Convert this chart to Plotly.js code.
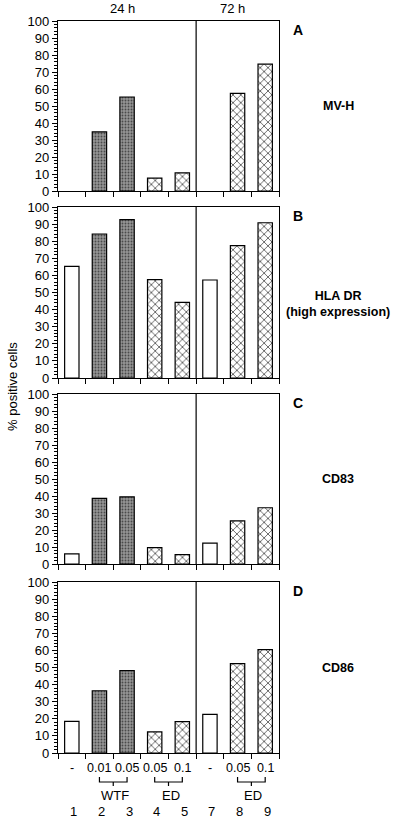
<!DOCTYPE html>
<html>
<head>
<meta charset="utf-8">
<script src="https://cdn.plot.ly/plotly-3.0.1.min.js"></script>
<style>html,body{margin:0;padding:0;background:#fff;}#chart{width:400px;height:824px;}</style>
</head>
<body>
<div id="chart"></div>
<script>
// ---- data ----
const lanes = ['1','2','3','4','5','7','8','9'];
const doseLabels = ['-','0.01','0.05','0.05','0.1','-','0.05','0.1'];
const treatment = ['none','WTF','WTF','ED','ED','none','ED','ED'];
const timeGroups = ['24 h','72 h'];
const panelLetters = ['A','B','C','D'];
const markerNames = ['MV-H','HLA DR<br>(high expression)','CD83','CD86'];
const mvH   = [null, 34.8, 55.3, 7.6, 10.7, null, 57.4, 74.6];
const hlaDR = [65.3, 84.2, 92.6, 57.5, 44.2, 57.3, 77.4, 90.8];
const cd83  = [5.9, 38.6, 39.5, 9.6, 5.5, 12.3, 25.4, 33.1];
const cd86  = [18.5, 36.4, 48.2, 12.3, 18.3, 22.6, 52.3, 60.5];
const panels = [mvH, hlaDR, cd83, cd86];

// ---- layout helpers ----
const W = 400, H = 824, ML = 58, MR = 121, MT = 21, MB = 71;
const plotH = H - MT - MB, plotW = W - ML - MR;
const py = p => (H - MB - p) / plotH;   // pixel y -> paper y
const px = p => (p - ML) / plotW;       // pixel x -> paper x
const panelPix = [[21,191],[207,378],[394,564],[582,753]];
const xpos = lanes.map((_, i) => i);

const font = {family: 'Liberation Sans, Arial, sans-serif', color: '#000'};
const styles = {
  none: {color: '#ffffff'},
  WTF:  {color: '#7e7e7e', pattern: {shape: '.', fgcolor: '#4a4a4a', bgcolor: '#949494', size: 3, solidity: 0.3, fillmode: 'replace'}},
  ED:   {color: '#ffffff', pattern: {shape: 'x', fgcolor: '#000000', bgcolor: '#ffffff', size: 5.5, solidity: 0.2, fillmode: 'replace'}}
};

const traces = [];
const layout = {
  width: W, height: H,
  margin: {l: ML, r: MR, t: MT, b: MB, pad: 0},
  paper_bgcolor: '#fff', plot_bgcolor: '#fff',
  showlegend: false, barmode: 'overlay',
  font: Object.assign({size: 13}, font),
  shapes: [], annotations: []
};

panels.forEach((vals, k) => {
  const sfx = k === 0 ? '' : String(k + 1);
  Object.keys(styles).forEach(t => {
    const st = styles[t];
    const marker = {color: st.color, line: {color: '#000', width: 1.2}};
    if (st.pattern) marker.pattern = st.pattern;
    traces.push({
      type: 'bar', x: xpos, y: vals.map((v, i) => treatment[i] === t ? v : null),
      xaxis: 'x' + sfx, yaxis: 'y' + sfx, width: 0.52,
      marker: marker, hoverinfo: 'skip'
    });
  });
  const [top, bot] = panelPix[k];
  layout['xaxis' + sfx] = {
    domain: [0, 1], anchor: 'y' + sfx, range: [-0.5, lanes.length - 0.5],
    tickvals: lanes.map((_, i) => i - 0.5).concat([lanes.length - 0.5]),
    ticks: 'outside', ticklen: 5, tickwidth: 1, tickcolor: '#000',
    showticklabels: false, showline: true, linecolor: '#000', linewidth: 1.2,
    mirror: true, showgrid: false, zeroline: false, fixedrange: true
  };
  layout['yaxis' + sfx] = {
    domain: [py(bot), py(top)], anchor: 'x' + sfx, range: [0, 100],
    tickmode: 'linear', tick0: 0, dtick: 10,
    ticks: 'outside', ticklen: 5, tickwidth: 1, tickcolor: '#000',
    minor: {dtick: 2, ticks: 'outside', ticklen: 2.5, tickcolor: '#000', tickwidth: 1},
    showline: true, linecolor: '#000', linewidth: 1.2, mirror: true,
    showgrid: false, zeroline: false, fixedrange: true,
    tickfont: Object.assign({size: 13}, font)
  };
  // divider between 24 h and 72 h
  layout.shapes.push({type: 'line', xref: 'x' + sfx, yref: 'y' + sfx,
    x0: 4.5, x1: 4.5, y0: 0, y1: 100, line: {color: '#000', width: 1.2}});
  // panel letter and marker name
  layout.annotations.push({xref: 'paper', yref: 'paper', x: px(298), y: py(top + 9),
    text: '<b>' + panelLetters[k] + '</b>', showarrow: false, xanchor: 'center', yanchor: 'middle',
    font: Object.assign({size: 14}, font)});
  layout.annotations.push({xref: 'paper', yref: 'paper', x: px(338), y: py((top + bot) / 2 + (k === 1 ? 12 : 0)),
    text: '<b>' + markerNames[k] + '</b>', showarrow: false, xanchor: 'center', yanchor: 'middle',
    font: Object.assign({size: 12.5}, font)});
});

// time labels
[[122, timeGroups[0]], [232, timeGroups[1]]].forEach(([x, t]) => {
  layout.annotations.push({xref: 'paper', yref: 'paper', x: px(x), y: py(9), text: t,
    showarrow: false, xanchor: 'center', yanchor: 'middle', font: Object.assign({size: 13}, font)});
});

// y title
layout.annotations.push({xref: 'paper', yref: 'paper', x: px(12), y: py(387), text: '% positive cells',
  textangle: -90, showarrow: false, xanchor: 'center', yanchor: 'middle', font: Object.assign({size: 13}, font)});

// bottom labels (dose, lane numbers)
lanes.forEach((ln, i) => {
  layout.annotations.push({xref: 'x4', yref: 'paper', x: i, y: py(768), text: doseLabels[i],
    showarrow: false, xanchor: 'center', yanchor: 'middle', font: Object.assign({size: 12.5}, font)});
  layout.annotations.push({xref: 'x4', yref: 'paper', x: i, xshift: 2, y: py(811), text: ln,
    showarrow: false, xanchor: 'center', yanchor: 'middle', font: Object.assign({size: 13}, font)});
});

// brackets grouping treatments
const groups = [];
treatment.forEach((t, i) => {
  if (t === 'none') return;
  const g = groups[groups.length - 1];
  if (g && g.name === t && g.end === i - 1) g.end = i; else groups.push({name: t, start: i, end: i});
});
groups.forEach(g => {
  const a = g.start, b = g.end, m = (a + b) / 2;
  const ln = {color: '#000', width: 1.2};
  layout.shapes.push({type: 'path', xref: 'x4', yref: 'paper',
    path: `M ${a},${py(777)} L ${a},${py(782)} L ${b},${py(782)} L ${b},${py(777)}`, line: ln});
  layout.shapes.push({type: 'line', xref: 'x4', yref: 'paper', x0: m, x1: m, y0: py(782), y1: py(786), line: ln});
  layout.annotations.push({xref: 'x4', yref: 'paper', x: m, xshift: 2, y: py(795), text: g.name,
    showarrow: false, xanchor: 'center', yanchor: 'middle', font: Object.assign({size: 13}, font)});
});

Plotly.newPlot('chart', traces, layout, {displayModeBar: false, staticPlot: true});
</script>
</body>
</html>
